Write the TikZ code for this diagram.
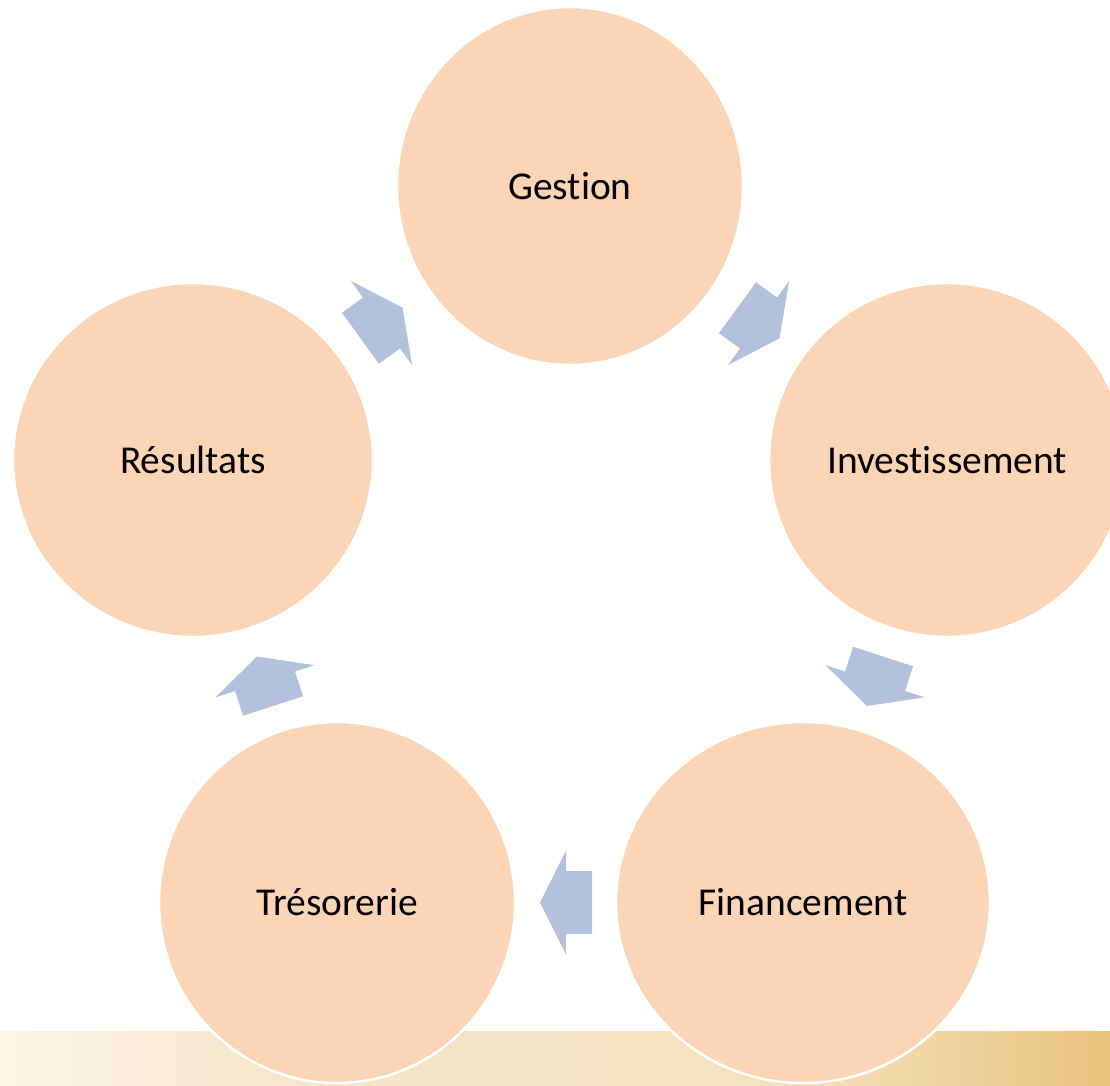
\documentclass[tikz,border=0pt]{standalone}
\usepackage{fontspec}
\setmainfont{Carlito}[Ligatures={NoCommon}]
\usetikzlibrary{shapes.geometric,calc}
\definecolor{peach}{HTML}{FBD5B5}
\definecolor{arrowblue}{HTML}{B2C2DD}
\definecolor{bandA}{HTML}{FBF4E9}
\definecolor{bandB}{HTML}{F6E7CB}
\definecolor{bandC}{HTML}{F4E1BE}
\definecolor{bandD}{HTML}{F0D7A6}
\definecolor{bandE}{HTML}{E8C27A}
\pgfdeclarehorizontalshading{bandshade}{100bp}{color(0bp)=(bandA); color(25bp)=(bandA); color(37bp)=(bandB); color(60bp)=(bandC); color(66bp)=(bandD); color(75bp)=(bandE); color(100bp)=(bandE)}
\newcommand{\blockarrow}[3][0]{%
  \pgfmathanglebetweenpoints{\pgfpointanchor{#2}{center}}{\pgfpointanchor{#3}{center}}%
  \edef\myarrang{\pgfmathresult}%
  \fill[flow, shift={($(#2.center)!0.5!(#3.center)$)}, xshift=#1pt, rotate=\myarrang]
    (-26,-31.5) -- (0,-31.5) -- (0,-52) -- (26,0) -- (0,52) -- (0,31.5) -- (-26,31.5) -- cycle;}
\begin{document}
\begin{tikzpicture}[x=1pt,y=-1pt,
  stage/.style={ellipse, fill=peach, draw=white, line width=2.5pt, inner sep=0pt,
    font=\fontsize{39.5}{44}\selectfont, text=black},
  flow/.style={fill=arrowblue, draw=none}]
\useasboundingbox (0,0) rectangle (1110,1085);
\clip (0,0) rectangle (1110,1085);
\fill[white] (0,0) rectangle (1110,1085);
\shade[shading=bandshade] (0,1031) rectangle (1110,1085);
\node[stage, minimum width=346pt, minimum height=358pt] (ges) at (570,186) {Gestion};
\node[stage, minimum width=356pt, minimum height=354pt] (inv) at (947,460) {Investissement};
\node[stage, minimum width=374pt, minimum height=361pt] (fin) at (803,902.5) {Financement};
\node[stage, minimum width=356pt, minimum height=361pt] (tre) at (337,902.5) {Trésorerie};
\node[stage, minimum width=360pt, minimum height=354pt] (res) at (193,460) {Résultats};
\blockarrow{ges}{inv}
\blockarrow{inv}{fin}
\blockarrow[-4]{fin}{tre}
\blockarrow{tre}{res}
\blockarrow{res}{ges}
\end{tikzpicture}
\end{document}
